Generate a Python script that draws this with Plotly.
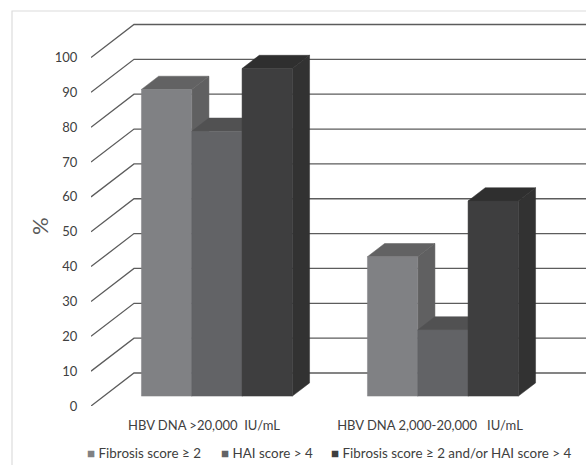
import plotly.graph_objects as go

# Data
categories = ["HBV DNA >20,000\u00a0\u00a0IU/mL", "HBV DNA 2,000-20,000\u00a0\u00a0\u00a0IU/mL"]
series_names = ["Fibrosis score ≥ 2", "HAI score > 4", "Fibrosis score ≥ 2 and/or HAI score > 4"]
fibrosis = [88, 40]
hai = [76, 19]
either = [94, 56]
y_ticks = [0, 10, 20, 30, 40, 50, 60, 70, 80, 90, 100]

front_colors = ["#808184", "#626366", "#3e3e3f"]
top_colors = ["#626263", "#515152", "#2f2f2f"]
side_colors = ["#606061", "#4c4c4d", "#323232"]
legend_colors = ["#808184", "#626366", "#3e3e3f"]
legend_x_px = [85, 219, 329]

# Layout constants (pixels)
W, H = 586, 465
LEFT, BOTTOM_PX = 91, 406
PLOT_W = W - LEFT
PX_X = 226.0   # pixels per category
PX_Y = 3.485   # pixels per percent
WALL_DX, WALL_DY = 43 / PX_X, 33 / PX_Y
BAR_W = 50.3 / PX_X
BAR_FRONT = 0.30
BAR_DEPTH = 0.40

fig = go.Figure()
x_max = -0.5 + PLOT_W / PX_X

# 3-D style gridlines: slanted on the floor side, then flat on the back wall
for t in y_ticks:
    fig.add_trace(go.Scatter(
        x=[-0.5, -0.5 + WALL_DX, x_max], y=[t, t + WALL_DY, t + WALL_DY],
        mode="lines", line=dict(color="#5c5c5c", width=1.3),
        showlegend=False, hoverinfo="skip"))


def poly(xs, ys, color, name, value=None):
    fig.add_trace(go.Scatter(
        x=xs + xs[:1], y=ys + ys[:1], mode="lines", fill="toself", fillcolor=color,
        line=dict(color=color, width=0.5), showlegend=False,
        hoverinfo="text" if value is not None else "skip",
        text=f"{name}: {value}%" if value is not None else None))


series_values = [fibrosis, hai, either]
fx, fy = BAR_FRONT * WALL_DX, BAR_FRONT * WALL_DY
dx, dy = BAR_DEPTH * WALL_DX, BAR_DEPTH * WALL_DY
for g in range(len(categories)):
    for s, values in enumerate(series_values):
        v = values[g]
        x0 = g + fx + (s - 1.5) * BAR_W
        x1 = x0 + BAR_W
        y0, y1 = fy, fy + v
        # side face
        poly([x1, x1 + dx, x1 + dx, x1], [y0, y0 + dy, y1 + dy, y1], side_colors[s], series_names[s])
        # top face
        poly([x0, x0 + dx, x1 + dx, x1], [y1, y1 + dy, y1 + dy, y1], top_colors[s], series_names[s])
        # front face
        poly([x0, x1, x1, x0], [y0, y0, y1, y1], front_colors[s], series_names[s], v)

to_px = lambda px: (px - LEFT) / PLOT_W
to_py = lambda py: (BOTTOM_PX - py) / BOTTOM_PX

annotations = [dict(
    x=to_px(39), y=to_py(226), xref="paper", yref="paper", xanchor="center", yanchor="middle",
    text="%", textangle=-90,
    showarrow=False, font=dict(family="Lato", size=22, color="#595959"))]
for name, color, px in zip(series_names, legend_colors, legend_x_px):
    annotations.append(dict(
        x=to_px(px), y=to_py(453), xref="paper", yref="paper", xanchor="left", yanchor="middle",
        showarrow=False,
        text=f'<span style="color:{color}">■</span> {name}',
        font=dict(family="Lato", size=13.4, color="#404040")))

fig.update_layout(
    width=W, height=H, autosize=False,
    margin=dict(l=LEFT, r=0, t=0, b=H - BOTTOM_PX, pad=0),
    paper_bgcolor="white", plot_bgcolor="white", showlegend=False,
    font=dict(family="Lato", color="#404040"),
    xaxis=dict(range=[-0.5, x_max], tickmode="array", tickvals=list(range(len(categories))),
               ticktext=categories, ticks="outside", ticklen=7, tickcolor="rgba(0,0,0,0)",
               showgrid=False, zeroline=False, showline=False, tickfont=dict(size=13, color="#404040")),
    yaxis=dict(range=[0, BOTTOM_PX / PX_Y], tickmode="array", tickvals=y_ticks,
               ticks="outside", ticklen=10, tickcolor="rgba(0,0,0,0)",
               showgrid=False, zeroline=False, showline=False, tickfont=dict(size=13, color="#404040")),
    annotations=annotations,
    shapes=[dict(type="rect", xref="paper", yref="paper", layer="above",
                 x0=to_px(12), x1=to_px(640), y0=to_py(520), y1=to_py(11),
                 line=dict(color="#dcdcdc", width=1.2), fillcolor="rgba(0,0,0,0)")],
)

fig.write_html("out.html", config=dict(displayModeBar=False),
               post_script="document.body.style.margin='0';document.body.style.overflow='hidden';")
